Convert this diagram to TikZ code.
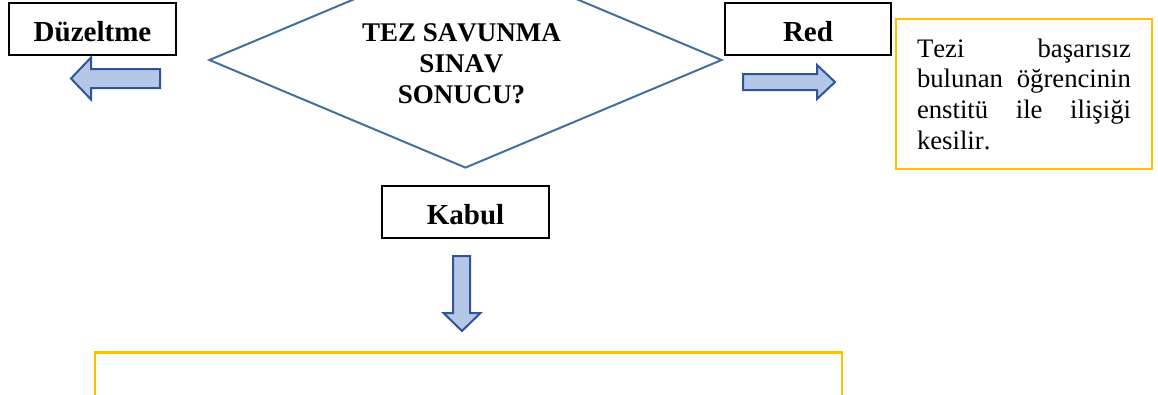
\documentclass[tikz,border=0pt]{standalone}
\usepackage{fontspec}
\setmainfont{Liberation Serif}[Kerning=Off]
\usetikzlibrary{shapes.geometric}
\definecolor{dia}{HTML}{41719C}
\definecolor{arrfill}{HTML}{B4C7E7}
\definecolor{arrline}{HTML}{2F5597}
\definecolor{gold}{HTML}{FFC000}
\tikzset{
  lbox/.style={draw=black, line width=1.2pt, rectangle, inner sep=0pt,
    minimum height=52pt, text height=25pt, text depth=0pt,
    font=\fontsize{29}{33}\selectfont\bfseries},
  goldbox/.style={draw=gold, line width=2.5pt, rectangle, inner sep=0pt},
  blockarrow/.style={draw=arrline, fill=arrfill, line width=2pt, line join=miter},
}
\begin{document}
\begin{tikzpicture}[x=1pt,y=-1pt]
\useasboundingbox (0,0) rectangle (1158,394);
\clip (0,0) rectangle (1158,394);
\fill[white] (0,0) rectangle (1158,394);

% diamond
\node[diamond, draw=dia, line width=2pt, inner sep=0pt,
      minimum width=513pt, minimum height=216pt] (dmd) at (465.5,60) {};
\node[inner sep=0pt, align=center,
      font=\fontsize{27}{31}\selectfont\bfseries] (q) at (461.5,63.8)
      {TEZ SAVUNMA\\SINAV\\SONUCU?};

% label boxes
\node[lbox, minimum width=167pt] (duz) at (92.5,29) {Düzeltme};
\node[lbox, minimum width=166pt] (red) at (808,29) {Red};
\node[lbox, minimum width=167pt] (kab) at (465.5,212) {Kabul};

% red result text box
\node[goldbox, minimum width=256pt, minimum height=150pt, text width=214pt,
      align=left, font=\fontsize{26.7}{30.7}\selectfont] (redtxt) at (1024,94)
      {Tezi\hfill başarısız\\
       bulunan\hfill öğrencinin\\
       enstitü\hfill ile\hfill ilişiği\\
       kesilir.};

% bottom box (continues past the lower edge)
\node[goldbox, anchor=north, minimum width=747pt, minimum height=120pt] (kabtxt) at (468.5,351) {};

% block arrows
\draw[blockarrow] (160,69) -- (91,69) -- (91,57.5) -- (71,78.5) -- (91,99.5) -- (91,88) -- (160,88) -- cycle;
\draw[blockarrow] (743,74) -- (817,74) -- (817,65) -- (835,82) -- (817,99) -- (817,90) -- (743,90) -- cycle;
\draw[blockarrow] (453,256) -- (453,313) -- (443.5,313) -- (462,331) -- (480.5,313) -- (470,313) -- (470,256) -- cycle;
\end{tikzpicture}
\end{document}
